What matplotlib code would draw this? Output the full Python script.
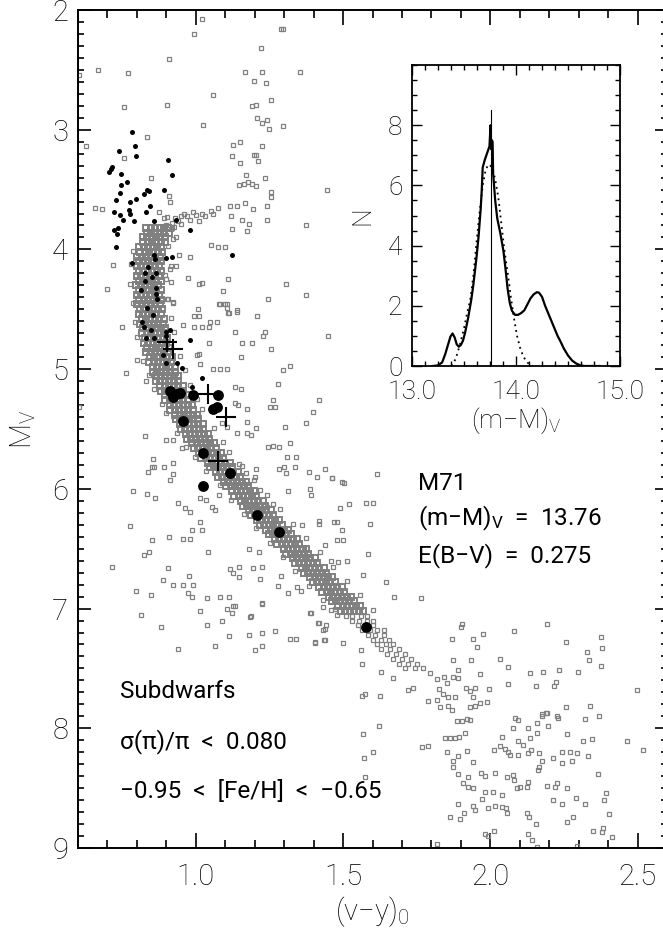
import matplotlib
matplotlib.use('Agg')
import matplotlib.pyplot as plt
from matplotlib.ticker import MultipleLocator, FixedLocator, FixedFormatter

plt.rcParams['font.family'] = ['Roboto', 'DejaVu Sans']
plt.rcParams['font.weight'] = 'light'
plt.rcParams['axes.labelweight'] = 'light'
plt.rcParams['mathtext.fontset'] = 'custom'
plt.rcParams['mathtext.rm'] = 'Roboto:light'
plt.rcParams['mathtext.it'] = 'Roboto:light'
plt.rcParams['mathtext.default'] = 'regular'

# ---------------- data ----------------
# dense main-sequence band of field stars: (M_V, [colours])
ms_rows = [
    (3.82, [.832, .847, .862, .877, .892, .907]),
    (3.86, [.833, .848, .863, .878, .893, .908]),
    (3.90, [.820, .835, .850, .865, .880, .895]),
    (3.94, [.821, .836, .851, .866, .881, .896]),
    (3.98, [.808, .823, .838, .853, .868, .883]),
    (4.02, [.811, .826, .841, .856, .871, .886]),
    (4.06, [.802, .817, .832, .847, .862, .877]),
    (4.10, [.807, .822, .837, .852, .867, .882]),
    (4.14, [.800, .815, .830, .845, .860, .875]),
    (4.18, [.807, .822, .837, .852, .867, .882]),
    (4.22, [.800, .815, .830, .845, .860, .875]),
    (4.26, [.806, .821, .836, .851, .866, .881]),
    (4.30, [.798, .813, .828, .843, .858, .873]),
    (4.34, [.806, .821, .836, .851, .866, .881]),
    (4.38, [.800, .815, .830, .845, .860, .875]),
    (4.42, [.808, .823, .838, .853, .868, .883]),
    (4.46, [.802, .817, .832, .847, .862, .877]),
    (4.50, [.810, .825, .840, .855, .870, .885]),
    (4.54, [.806, .821, .836, .851, .866, .881]),
    (4.58, [.816, .831, .846, .861, .876, .891]),
    (4.62, [.812, .827, .842, .857, .872, .887]),
    (4.66, [.822, .837, .852, .867, .882, .897]),
    (4.70, [.818, .833, .848, .863, .878, .893]),
    (4.74, [.828, .843, .858, .873, .888, .903]),
    (4.78, [.824, .839, .854, .869, .884, .899]),
    (4.82, [.835, .850, .865, .880, .895, .910]),
    (4.86, [.832, .847, .862, .877, .892, .907]),
    (4.90, [.843, .858, .873, .888, .903, .918]),
    (4.94, [.842, .857, .872, .887, .902, .917]),
    (4.98, [.854, .869, .884, .899, .914, .929]),
    (5.02, [.853, .868, .883, .898, .913, .928]),
    (5.06, [.866, .881, .896, .911, .926, .941]),
    (5.10, [.865, .880, .895, .910, .925, .940]),
    (5.14, [.880, .895, .910, .925, .940, .955]),
    (5.18, [.881, .896, .911, .926, .941, .956]),
    (5.22, [.896, .911, .926, .941, .956, .971]),
    (5.26, [.897, .912, .927, .942, .957, .972]),
    (5.30, [.912, .927, .942, .957, .972, .987]),
    (5.34, [.914, .929, .944, .959, .974, .989]),
    (5.38, [.930, .945, .960, .975, .990, 1.005]),
    (5.42, [.932, .947, .962, .977, .992, 1.007]),
    (5.46, [.948, .963, .978, .993, 1.008, 1.023]),
    (5.50, [.950, .965, .980, .995, 1.010, 1.025]),
    (5.54, [.967, .982, .997, 1.012, 1.027, 1.042]),
    (5.58, [.970, .985, 1.000, 1.015, 1.030, 1.045]),
    (5.62, [.988, 1.003, 1.018, 1.033, 1.048, 1.063]),
    (5.66, [.993, 1.008, 1.023, 1.038, 1.053, 1.068]),
    (5.70, [1.012, 1.027, 1.042, 1.057, 1.072, 1.087]),
    (5.74, [1.019, 1.034, 1.049, 1.064, 1.079, 1.094]),
    (5.78, [1.040, 1.055, 1.070, 1.085, 1.100, 1.115]),
    (5.82, [1.047, 1.062, 1.077, 1.092, 1.107, 1.122]),
    (5.86, [1.068, 1.083, 1.098, 1.113, 1.128, 1.143]),
    (5.90, [1.075, 1.090, 1.105, 1.120, 1.135, 1.150]),
    (5.94, [1.096, 1.111, 1.126, 1.141, 1.156, 1.171]),
    (5.98, [1.103, 1.118, 1.133, 1.148, 1.163, 1.178]),
    (6.02, [1.124, 1.139, 1.154, 1.169, 1.184, 1.199]),
    (6.06, [1.131, 1.146, 1.161, 1.176, 1.191, 1.206]),
    (6.10, [1.152, 1.167, 1.182, 1.197, 1.212, 1.227]),
    (6.14, [1.159, 1.174, 1.189, 1.204, 1.219, 1.234]),
    (6.18, [1.180, 1.195, 1.210, 1.225, 1.240, 1.255]),
    (6.22, [1.187, 1.202, 1.217, 1.232, 1.247, 1.262]),
    (6.26, [1.209, 1.224, 1.239, 1.254, 1.269, 1.284]),
    (6.30, [1.217, 1.232, 1.247, 1.262, 1.277, 1.292]),
    (6.34, [1.239, 1.254, 1.269, 1.284, 1.299, 1.314]),
    (6.38, [1.247, 1.262, 1.277, 1.292, 1.307, 1.322]),
    (6.42, [1.269, 1.284, 1.299, 1.314, 1.329, 1.344]),
    (6.46, [1.277, 1.292, 1.307, 1.322, 1.337, 1.352]),
    (6.50, [1.299, 1.314, 1.329, 1.344, 1.359, 1.374]),
    (6.54, [1.307, 1.322, 1.337, 1.352, 1.367, 1.382]),
    (6.58, [1.329, 1.344, 1.359, 1.374, 1.389, 1.404]),
    (6.62, [1.337, 1.352, 1.367, 1.382, 1.397, 1.412]),
    (6.66, [1.359, 1.374, 1.389, 1.404, 1.419, 1.434]),
    (6.70, [1.367, 1.382, 1.397, 1.412, 1.427, 1.442]),
    (6.74, [1.389, 1.404, 1.419, 1.434, 1.449, 1.464]),
    (6.78, [1.397, 1.412, 1.427, 1.442, 1.457, 1.472]),
    (6.82, [1.420, 1.435, 1.450, 1.465, 1.480, 1.495]),
    (6.86, [1.429, 1.444, 1.459, 1.474, 1.489, 1.504]),
    (6.90, [1.452, 1.467, 1.482, 1.497, 1.512, 1.527]),
    (6.94, [1.461, 1.476, 1.491, 1.506, 1.521, 1.536]),
    (6.98, [1.484, 1.499, 1.514, 1.529, 1.544, 1.559]),
    (7.02, [1.493, 1.508, 1.523, 1.538, 1.553, 1.568]),
]

# where the band thins out into single stars
tail_rows = [
    (7.06, [1.51, 1.53, 1.56, 1.58]),
    (7.10, [1.53, 1.555, 1.58, 1.60]),
    (7.14, [1.55, 1.575, 1.60]),
    (7.18, [1.565, 1.59, 1.615, 1.64]),
    (7.22, [1.585, 1.61, 1.64]),
    (7.26, [1.60, 1.63, 1.655]),
    (7.30, [1.615, 1.645, 1.67]),
    (7.34, [1.63, 1.66, 1.69]),
    (7.38, [1.65, 1.68, 1.71]),
    (7.42, [1.67, 1.70, 1.73]),
    (7.46, [1.69, 1.72, 1.75]),
    (7.50, [1.71, 1.745, 1.77]),
]

# stars just outside the dense band edges
halo_x = [0.786, 0.905, 0.779, 0.912, 0.776, 0.898, 0.788, 0.903, 0.792, 0.917,
          0.801, 0.927, 0.821, 0.946, 0.842, 0.962, 0.858, 0.981, 0.886, 1.004,
          0.899, 1.021, 0.936, 1.062, 0.968, 1.092, 0.996, 1.114, 1.034, 1.157,
          1.081, 1.199, 1.118, 1.243, 1.162, 1.286, 1.204, 1.331, 1.251, 1.374,
          1.296, 1.421, 1.338, 1.466, 1.386, 1.512, 1.432, 1.556, 1.478, 1.602]
halo_y = [4.01, 3.97, 4.12, 4.16, 4.29, 4.25, 4.45, 4.41, 4.61, 4.57,
          4.73, 4.69, 4.93, 4.89, 5.05, 5.01, 5.17, 5.13, 5.29, 5.25,
          5.37, 5.33, 5.53, 5.49, 5.65, 5.61, 5.73, 5.69, 5.85, 5.81,
          5.97, 5.93, 6.09, 6.05, 6.21, 6.17, 6.33, 6.29, 6.45, 6.41,
          6.57, 6.53, 6.69, 6.65, 6.81, 6.77, 6.93, 6.89, 7.05, 7.01]

# subgiant branch of the field stars
sgb_x = [0.90, 0.92, 0.93, 0.95, 0.96, 0.97, 0.99, 1.00, 1.02, 1.03, 1.05, 1.06,
         0.94, 0.98, 1.01, 0.95, 0.92, 0.916, 0.926, 0.922, 0.932]
sgb_y = [3.80, 3.78, 3.74, 3.72, 3.70, 3.72, 3.69, 3.71, 3.70, 3.72, 3.68, 3.70,
         3.76, 3.75, 3.76, 3.79, 3.82, 3.83, 3.81, 3.91, 3.90]

# scattered field stars, upper part
field_up = [
    (1.021, 2.075), (0.994, 2.20), (1.296, 2.16), (1.291, 2.16), (1.221, 2.32),
    (0.909, 2.41), (0.668, 2.50), (0.771, 2.53), (0.603, 2.54), (1.168, 2.52),
    (1.224, 2.52), (1.198, 2.59), (1.239, 2.61), (1.353, 2.52), (1.059, 2.71),
    (1.254, 2.75), (0.755, 2.81), (0.903, 2.79), (1.191, 2.80), (1.204, 2.79),
    (1.207, 2.90), (1.224, 2.94), (1.241, 2.92), (1.248, 2.99), (1.295, 2.97),
    (1.025, 2.96), (0.833, 3.06), (0.626, 3.14), (1.127, 3.13), (1.151, 3.10),
    (1.226, 3.14), (1.122, 3.22), (1.151, 3.28), (1.199, 3.21), (1.205, 3.21),
    (1.212, 3.26), (0.756, 3.24), (0.848, 3.40), (1.172, 3.38), (1.147, 3.46),
    (1.164, 3.45), (1.177, 3.44), (1.191, 3.45), (1.204, 3.47), (1.236, 3.40),
    (1.447, 3.50), (1.254, 3.52), (1.254, 3.56), (0.909, 3.55), (0.912, 3.60),
    (0.658, 3.65), (0.680, 3.66), (0.875, 3.69), (0.892, 3.74), (0.902, 3.73),
    (1.075, 3.65), (1.116, 3.64), (1.140, 3.64), (1.168, 3.61), (1.193, 3.66),
    (1.241, 3.64), (1.119, 3.72), (1.241, 3.75), (1.156, 3.75), (1.180, 3.79),
    (1.123, 3.83), (1.174, 3.85), (1.373, 3.80), (1.051, 3.96), (1.075, 3.98),
    (1.099, 3.98), (0.980, 4.06), (0.942, 4.05), (0.915, 4.14), (0.932, 4.14),
    (0.718, 4.13), (0.700, 4.33), (0.895, 4.21), (0.973, 4.24), (0.915, 4.27),
    (1.012, 4.29), (1.021, 4.28), (1.110, 4.25), (1.093, 4.35), (1.305, 4.29),
    (1.373, 4.38), (1.246, 4.41), (0.905, 4.41), (0.922, 4.44), (1.080, 4.46),
    (1.099, 4.46), (1.106, 4.49), (1.140, 4.51), (1.113, 4.53), (1.007, 4.50),
    (0.994, 4.56), (1.207, 4.56),
]

# scattered field stars, middle part
field_mid = [
    (0.750, 4.65), (0.800, 4.92), (0.763, 5.03), (0.831, 5.10), (0.864, 5.05),
    (0.604, 5.32), (0.828, 5.56), (0.900, 5.59), (0.922, 5.59), (0.952, 5.66),
    (0.854, 5.75), (0.851, 5.82), (0.838, 5.86), (0.858, 5.82), (0.892, 5.82),
    (0.922, 5.78), (0.922, 5.88), (0.912, 5.93), (0.786, 6.02), (0.834, 6.04),
    (0.861, 6.08), (0.939, 6.12), (0.776, 6.31), (0.851, 6.43), (0.824, 6.55),
    (0.841, 6.53), (0.909, 6.40), (0.956, 6.42), (0.980, 6.42), (0.987, 6.34),
    (1.014, 6.28), (1.021, 6.34), (0.963, 6.16), (0.980, 6.19), (0.716, 6.65),
    (0.905, 6.66), (0.922, 6.80), (0.888, 6.76), (0.956, 6.80), (0.990, 6.80),
    (0.977, 6.73), (0.797, 6.85), (0.848, 6.89), (0.973, 6.87), (0.987, 6.90),
    (1.041, 6.53), (1.014, 6.08), (1.034, 6.09), (1.055, 6.15), (1.065, 6.18),
    (1.078, 6.05), (1.038, 6.91), (1.082, 6.90), (1.112, 6.90), (1.116, 6.67),
    (1.126, 6.70), (1.146, 6.65), (1.146, 6.74), (1.180, 6.50), (1.214, 6.53),
    (1.194, 6.66), (1.226, 6.65), (1.219, 6.75), (1.133, 6.98), (1.123, 7.04),
    (1.187, 7.06), (1.224, 6.95), (1.279, 6.81), (1.289, 6.73), (1.313, 6.87),
    (1.343, 6.82), (1.357, 6.85), (1.418, 6.27), (1.469, 6.28), (1.360, 6.30),
    (1.367, 6.49), (1.218, 6.01), (1.241, 6.15), (1.262, 6.13), (1.313, 6.02),
    (1.387, 6.00), (1.391, 6.05), (1.410, 5.90), (1.438, 5.83), (1.461, 5.91),
    (1.384, 5.86), (1.336, 5.82), (1.299, 5.82), (1.306, 5.87), (1.283, 5.83),
    (1.340, 5.73), (1.309, 5.73), (1.283, 5.65), (1.262, 5.64), (1.246, 5.65),
    (1.319, 5.62), (1.303, 5.48), (1.373, 5.45), (1.397, 5.36), (1.418, 5.26),
    (1.448, 4.72), (1.296, 5.01), (1.319, 4.97), (1.279, 5.12), (1.262, 5.26),
    (1.268, 5.32), (1.252, 5.32), (1.255, 4.83), (1.190, 4.78), (1.156, 4.78),
    (1.153, 4.90), (1.235, 4.69), (1.228, 4.72), (1.133, 4.69), (1.139, 4.52),
    (1.109, 4.53), (1.106, 4.46), (1.082, 4.46), (1.072, 4.61), (1.048, 4.61),
    (1.045, 4.65), (1.011, 4.56), (1.021, 4.65), (0.994, 4.65), (0.956, 4.63),
    (0.922, 4.45), (1.045, 4.78), (1.011, 4.87), (1.004, 4.88), (1.014, 4.96),
    (1.058, 5.00), (1.082, 5.00), (1.106, 5.00), (1.133, 5.15), (1.153, 5.17),
    (1.133, 5.28), (1.143, 5.30), (1.174, 5.33), (1.174, 5.44), (1.204, 5.49),
    (1.140, 5.53), (1.174, 5.53), (1.187, 5.55), (1.088, 5.45), (1.106, 5.48),
    (1.204, 5.83), (1.201, 5.90), (1.170, 5.87), (1.146, 5.79), (1.160, 6.05),
    (1.167, 6.12), (1.194, 6.15), (1.238, 6.25), (1.462, 5.91), (1.496, 5.94),
    (1.503, 5.95), (1.614, 5.88), (1.489, 6.16), (1.520, 6.13), (1.577, 6.12),
    (1.600, 6.12), (1.590, 6.29), (1.418, 6.29), (1.479, 6.28), (1.496, 6.34),
    (1.479, 6.43), (1.499, 6.43), (1.438, 6.47), (1.584, 6.54), (1.513, 6.60),
    (1.482, 6.61), (1.458, 6.60), (1.567, 6.72), (1.645, 6.78), (1.672, 6.90),
    (1.763, 6.91), (1.431, 6.99),
]

# scattered field stars, lower part
field_low = [
    (1.390, 7.04), (1.414, 7.12), (1.441, 7.14), (1.438, 7.17), (1.404, 7.28),
    (1.438, 7.26), (1.499, 7.29), (1.560, 7.35), (1.563, 7.46), (1.628, 7.53),
    (1.669, 7.58), (1.563, 7.73), (1.574, 7.71), (1.625, 7.73), (1.720, 7.68),
    (1.737, 7.66), (1.788, 7.77), (1.869, 7.25), (1.900, 7.15), (1.903, 7.13),
    (1.940, 7.25), (1.954, 7.32), (1.974, 7.21), (2.032, 7.42), (2.059, 7.49),
    (2.059, 7.63), (1.873, 7.43), (1.889, 7.51), (1.934, 7.43), (1.964, 7.55),
    (1.995, 7.67), (2.079, 7.19), (2.191, 7.13), (2.256, 7.28), (2.375, 7.24),
    (2.378, 7.33), (2.327, 7.36), (2.334, 7.43), (2.375, 7.48), (2.134, 7.54),
    (2.178, 7.53), (2.232, 7.51), (2.297, 7.53), (2.155, 7.65), (2.215, 7.65),
    (2.222, 7.61), (2.497, 7.68), (2.256, 7.82), (2.337, 7.81), (2.368, 7.90),
    (2.320, 7.92), (2.174, 7.88), (2.191, 7.87), (2.083, 7.91), (2.229, 7.91),
    (1.794, 7.54), (1.818, 7.59), (1.842, 7.57), (1.852, 7.62), (1.873, 7.57),
    (1.889, 7.58), (1.825, 7.67), (1.839, 7.71), (1.856, 7.74), (1.879, 7.74),
    (1.818, 7.76), (1.828, 7.82), (1.856, 7.81), (1.869, 7.85), (1.916, 7.66),
    (1.930, 7.69), (1.947, 7.66), (1.940, 7.74), (1.930, 7.82), (1.947, 7.81),
    (1.964, 7.79), (1.988, 7.78), (1.621, 7.98), (1.567, 8.05), (1.767, 8.16),
    (1.788, 8.15), (1.601, 8.20), (1.570, 8.25), (1.574, 8.41), (1.886, 7.94),
    (1.903, 7.94), (1.920, 7.92), (1.930, 7.93), (1.845, 8.08), (1.862, 8.08),
    (1.879, 8.08), (1.893, 8.07), (1.913, 8.04), (1.852, 8.20), (1.873, 8.27),
    (1.873, 8.32), (1.889, 8.23), (1.920, 8.19), (1.889, 8.38), (1.906, 8.46),
    (1.923, 8.41), (1.923, 8.49), (1.940, 8.50), (1.889, 8.63), (1.940, 8.65),
    (1.862, 8.74), (1.896, 8.76), (1.910, 8.71), (1.968, 8.37), (1.981, 8.40),
    (2.015, 8.37), (2.056, 8.41), (2.076, 8.39), (2.080, 8.43), (1.971, 8.59),
    (1.981, 8.53), (2.008, 8.53), (2.039, 8.56), (1.947, 8.68), (1.991, 8.67),
    (2.015, 8.65), (2.039, 8.66), (2.052, 8.67), (2.056, 8.71), (1.940, 8.28),
    (2.012, 8.18), (2.032, 8.15), (2.049, 8.17), (2.059, 8.20), (2.066, 8.22),
    (2.093, 8.22), (2.039, 8.07), (2.093, 8.11), (2.110, 8.14), (2.127, 8.21),
    (2.137, 8.18), (2.164, 8.21), (2.076, 8.00), (2.093, 7.93), (2.127, 8.00),
    (2.134, 8.08), (2.158, 8.04), (2.158, 7.96), (2.174, 7.90), (2.188, 7.87),
    (2.195, 7.98), (2.226, 7.90), (2.174, 8.27), (2.164, 8.32), (2.161, 8.35),
    (2.212, 8.25), (2.242, 8.20), (2.270, 8.20), (2.293, 8.21), (2.276, 8.27),
    (2.245, 8.29), (2.259, 8.05), (2.314, 8.11), (2.344, 8.09), (2.331, 8.23),
    (2.365, 8.38), (2.463, 8.11), (2.517, 8.18), (2.191, 8.48), (2.218, 8.49),
    (2.225, 8.46), (2.259, 8.50), (2.127, 8.45), (2.124, 8.49), (2.100, 8.49),
    (2.090, 8.50), (2.212, 8.60), (2.245, 8.63), (2.290, 8.58), (2.320, 8.63),
    (2.392, 8.54), (2.385, 8.60), (2.402, 8.72), (2.259, 8.78), (2.280, 8.74),
    (2.348, 8.86), (2.378, 8.87), (2.382, 8.83), (2.412, 8.91), (2.124, 8.71),
    (2.131, 8.74), (2.155, 8.80), (2.127, 8.88), (2.141, 8.93), (2.158, 8.99),
    (1.981, 8.88), (1.991, 8.90), (2.012, 8.86), (1.818, 8.97), (2.293, 8.98),
    (0.814, 7.05), (0.882, 7.15), (0.940, 7.34), (1.014, 7.02), (1.038, 7.14),
    (1.065, 7.31), (1.089, 7.10), (1.106, 7.00), (1.126, 6.98), (1.113, 7.23),
    (1.184, 7.07), (1.224, 6.96), (1.180, 7.22), (1.224, 7.20), (1.201, 7.35),
    (1.224, 7.31), (1.268, 7.19), (1.319, 7.25), (1.340, 7.25), (1.387, 7.04),
    (1.418, 7.12), (1.431, 7.18), (1.404, 7.29), (1.435, 7.26), (1.459, 7.01),
    (1.472, 7.00),
]

# thick-disk / other stars (small black dots)
dots_x = [0.783, 0.793, 0.740, 0.797, 0.905, 0.715, 0.712, 0.705, 0.746, 0.919,
          0.766, 0.746, 0.834, 0.841, 0.893, 0.743, 0.825, 0.729, 0.776, 0.797,
          0.844, 0.773, 0.776, 0.722, 0.831, 0.743, 0.753, 0.790, 0.857, 0.933,
          0.723, 0.736, 0.732, 0.980, 0.729, 0.858, 0.861, 0.898, 0.919, 0.783,
          1.124, 0.836, 0.829, 0.864, 0.851, 0.828, 0.814, 0.864, 0.864, 0.868,
          0.854, 0.834, 0.818, 0.824, 0.847, 0.831, 0.858, 0.899, 0.912, 0.900,
          0.980, 0.888, 0.900, 0.935, 0.952, 1.020, 0.988]
dots_y = [3.02, 3.14, 3.18, 3.22, 3.25, 3.31, 3.33, 3.35, 3.37, 3.38,
          3.44, 3.46, 3.50, 3.51, 3.50, 3.53, 3.54, 3.59, 3.60, 3.58,
          3.64, 3.67, 3.70, 3.69, 3.69, 3.71, 3.75, 3.76, 3.76, 3.75,
          3.84, 3.82, 3.87, 3.84, 3.98, 4.05, 4.08, 4.07, 4.06, 4.11,
          4.05, 4.15, 4.20, 4.20, 4.23, 4.26, 4.34, 4.32, 4.37, 4.41,
          4.55, 4.49, 4.61, 4.65, 4.67, 4.74, 4.74, 4.69, 4.67, 4.72,
          4.76, 4.88, 4.95, 4.95, 4.99, 5.07, 5.15]

# subdwarfs (large black dots)
sd_x = [0.912, 0.922, 0.932, 0.946, 0.990, 1.075, 1.058, 1.072, 0.956, 1.024,
        1.116, 1.024, 1.207, 1.283, 1.577]
sd_y = [5.18, 5.23, 5.21, 5.20, 5.22, 5.22, 5.33, 5.32, 5.43, 5.70,
        5.87, 5.98, 6.22, 6.36, 7.15]

# crosses
cross_x = [0.902, 0.922, 1.043, 1.102, 1.074]
cross_y = [4.77, 4.83, 5.21, 5.40, 5.77]

# inset: distance-modulus distribution
dist_x = [13.20, 13.25, 13.29, 13.32, 13.35, 13.37, 13.39, 13.41, 13.43, 13.45,
          13.47, 13.49, 13.51, 13.54, 13.57, 13.59, 13.62, 13.64, 13.66, 13.67,
          13.68, 13.70, 13.72, 13.745, 13.755, 13.762, 13.768, 13.775, 13.78, 13.80,
          13.82, 13.85, 13.88, 13.90, 13.92, 13.94, 13.96, 13.99, 14.02, 14.05,
          14.08, 14.11, 14.14, 14.17, 14.20, 14.22, 14.25, 14.28, 14.31, 14.34,
          14.37, 14.40, 14.43, 14.46, 14.50, 14.54, 14.58, 14.62, 14.66, 14.80]
dist_n = [0.00, 0.02, 0.12, 0.40, 0.75, 0.98, 1.08, 0.95, 0.72, 0.64,
          0.70, 0.84, 1.10, 1.60, 2.20, 2.70, 3.60, 4.30, 5.20, 5.80,
          6.60, 6.85, 7.05, 7.30, 8.00, 7.20, 7.50, 7.45, 6.40, 5.50,
          4.90, 4.40, 3.80, 3.20, 2.55, 2.10, 1.84, 1.70, 1.70, 1.76,
          1.85, 2.05, 2.25, 2.38, 2.45, 2.44, 2.30, 2.00, 1.75, 1.50,
          1.25, 1.00, 0.80, 0.58, 0.35, 0.18, 0.08, 0.02, 0.00, 0.00]
gauss_x = [13.38, 13.40, 13.43, 13.46, 13.50, 13.53, 13.56, 13.59, 13.62, 13.65,
           13.68, 13.71, 13.74, 13.77, 13.80, 13.83, 13.86, 13.89, 13.92, 13.95,
           13.98, 14.01, 14.04, 14.07, 14.10, 14.13, 14.16]
gauss_n = [0.00, 0.08, 0.35, 0.70, 1.25, 1.75, 2.20, 3.00, 4.10, 5.10,
           6.00, 6.55, 6.70, 6.60, 6.20, 5.60, 4.70, 3.80, 3.10, 2.30,
           1.60, 1.00, 0.60, 0.32, 0.15, 0.05, 0.00]
dist_mod = 13.76
dist_line_top = 8.5

# ---------------- figure ----------------
W, H = 663, 934
fig = plt.figure(figsize=(W / 100, H / 100), dpi=100)


def fx(px):
    return px / W


def fy(py):
    return 1 - py / H


ax = fig.add_axes([fx(78), fy(848), (667 - 78) / W, (848 - 10) / H])

ms_x = [x for y, xs in ms_rows for x in xs]
ms_y = [y for y, xs in ms_rows for x in xs]
tail_x = [x for y, xs in tail_rows for x in xs]
tail_y = [y for y, xs in tail_rows for x in xs]
fx_all = ([p[0] for p in field_up + field_mid + field_low]
          + sgb_x + halo_x + tail_x)
fy_all = ([p[1] for p in field_up + field_mid + field_low]
          + sgb_y + halo_y + tail_y)

gray = '#808080'
ax.plot(ms_x, ms_y, ls='none', marker='s', ms=4.0, mfc='none', mec=gray,
        mew=1.4, zorder=2)
ax.plot(fx_all, fy_all, ls='none', marker='s', ms=3.5, mfc='none', mec=gray,
        mew=0.9, zorder=2)
ax.plot(dots_x, dots_y, ls='none', marker='o', ms=3.6, mfc='black', mec='black',
        mew=0, zorder=3)
ax.plot(sd_x, sd_y, ls='none', marker='o', ms=7.8, mfc='black', mec='black',
        mew=0, zorder=4)
ax.plot(cross_x, cross_y, ls='none', marker='+', ms=14, mec='black', mew=1.5,
        zorder=5)

ax.set_xlim(0.6, 2.6)
ax.set_ylim(9, 2)
ax.xaxis.set_major_locator(FixedLocator([1.0, 1.5, 2.0, 2.5]))
ax.xaxis.set_major_formatter(FixedFormatter(['1.0', '1.5', '2.0', '2.5']))
ax.xaxis.set_minor_locator(MultipleLocator(0.1))
ax.yaxis.set_major_locator(MultipleLocator(1))
ax.yaxis.set_minor_locator(MultipleLocator(0.1))
ax.tick_params(axis='both', which='both', direction='in', top=True, right=True,
               width=1.2, labelsize=21)
ax.tick_params(axis='x', which='major', length=11, pad=11)
ax.tick_params(axis='x', which='minor', length=5.5)
ax.tick_params(axis='y', which='major', length=9, pad=7)
ax.tick_params(axis='y', which='minor', length=4.5)
for s in ax.spines.values():
    s.set_linewidth(1.4)

ax.set_xlabel('(v\u2212y)$_0$', fontsize=21, labelpad=2)
ax.set_ylabel('M$_V$', fontsize=21, labelpad=10)

tk = dict(fontsize=17.5, ha='left', va='baseline', color='black',
          fontweight='normal')
fig.text(fx(418), fy(490), 'M71', **tk)
fig.text(fx(418), fy(525), '(m\u2212M)$_V$  =  13.76', **tk)
fig.text(fx(418), fy(562), 'E(B\u2212V)  =  0.275', **tk)
fig.text(fx(120), fy(698), 'Subdwarfs', **tk)
fig.text(fx(120), fy(748), '\u03c3(\u03c0)/\u03c0  <  0.080', **tk)
fig.text(fx(120), fy(798), '\u22120.95  <  [Fe/H]  <  \u22120.65', **tk)

# ---------------- inset ----------------
ins = fig.add_axes([fx(412), fy(366), (620 - 412) / W, (366 - 65) / H])
ins.plot(dist_x, dist_n, color='black', lw=1.6, zorder=3)
ins.plot(gauss_x, gauss_n, color='black', lw=1.3, ls=(0, (1, 2.2)), zorder=2)
ins.plot([dist_mod, dist_mod], [0, dist_line_top], color='black', lw=0.8, zorder=2)
ins.set_xlim(13.0, 15.0)
ins.set_ylim(0, 10)
ins.xaxis.set_major_locator(FixedLocator([13.0, 14.0, 15.0]))
ins.xaxis.set_major_formatter(FixedFormatter(['13.0', '14.0', '15.0']))
ins.xaxis.set_minor_locator(MultipleLocator(0.125))
ins.yaxis.set_major_locator(FixedLocator([0, 2, 4, 6, 8]))
ins.yaxis.set_minor_locator(MultipleLocator(0.5))
ins.tick_params(axis='both', which='both', direction='in', top=True, right=True,
                width=1.0, labelsize=19)
ins.tick_params(axis='y', which='major', length=7, pad=7)
ins.tick_params(axis='x', which='major', length=7, pad=10)
ins.tick_params(axis='both', which='minor', length=3.5)
for s in ins.spines.values():
    s.set_linewidth(1.3)
ins.set_xlabel('(m\u2212M)$_V$', fontsize=19, labelpad=1)
ins.set_ylabel('N', fontsize=19, labelpad=10)

fig.savefig('out.png', dpi=100)
